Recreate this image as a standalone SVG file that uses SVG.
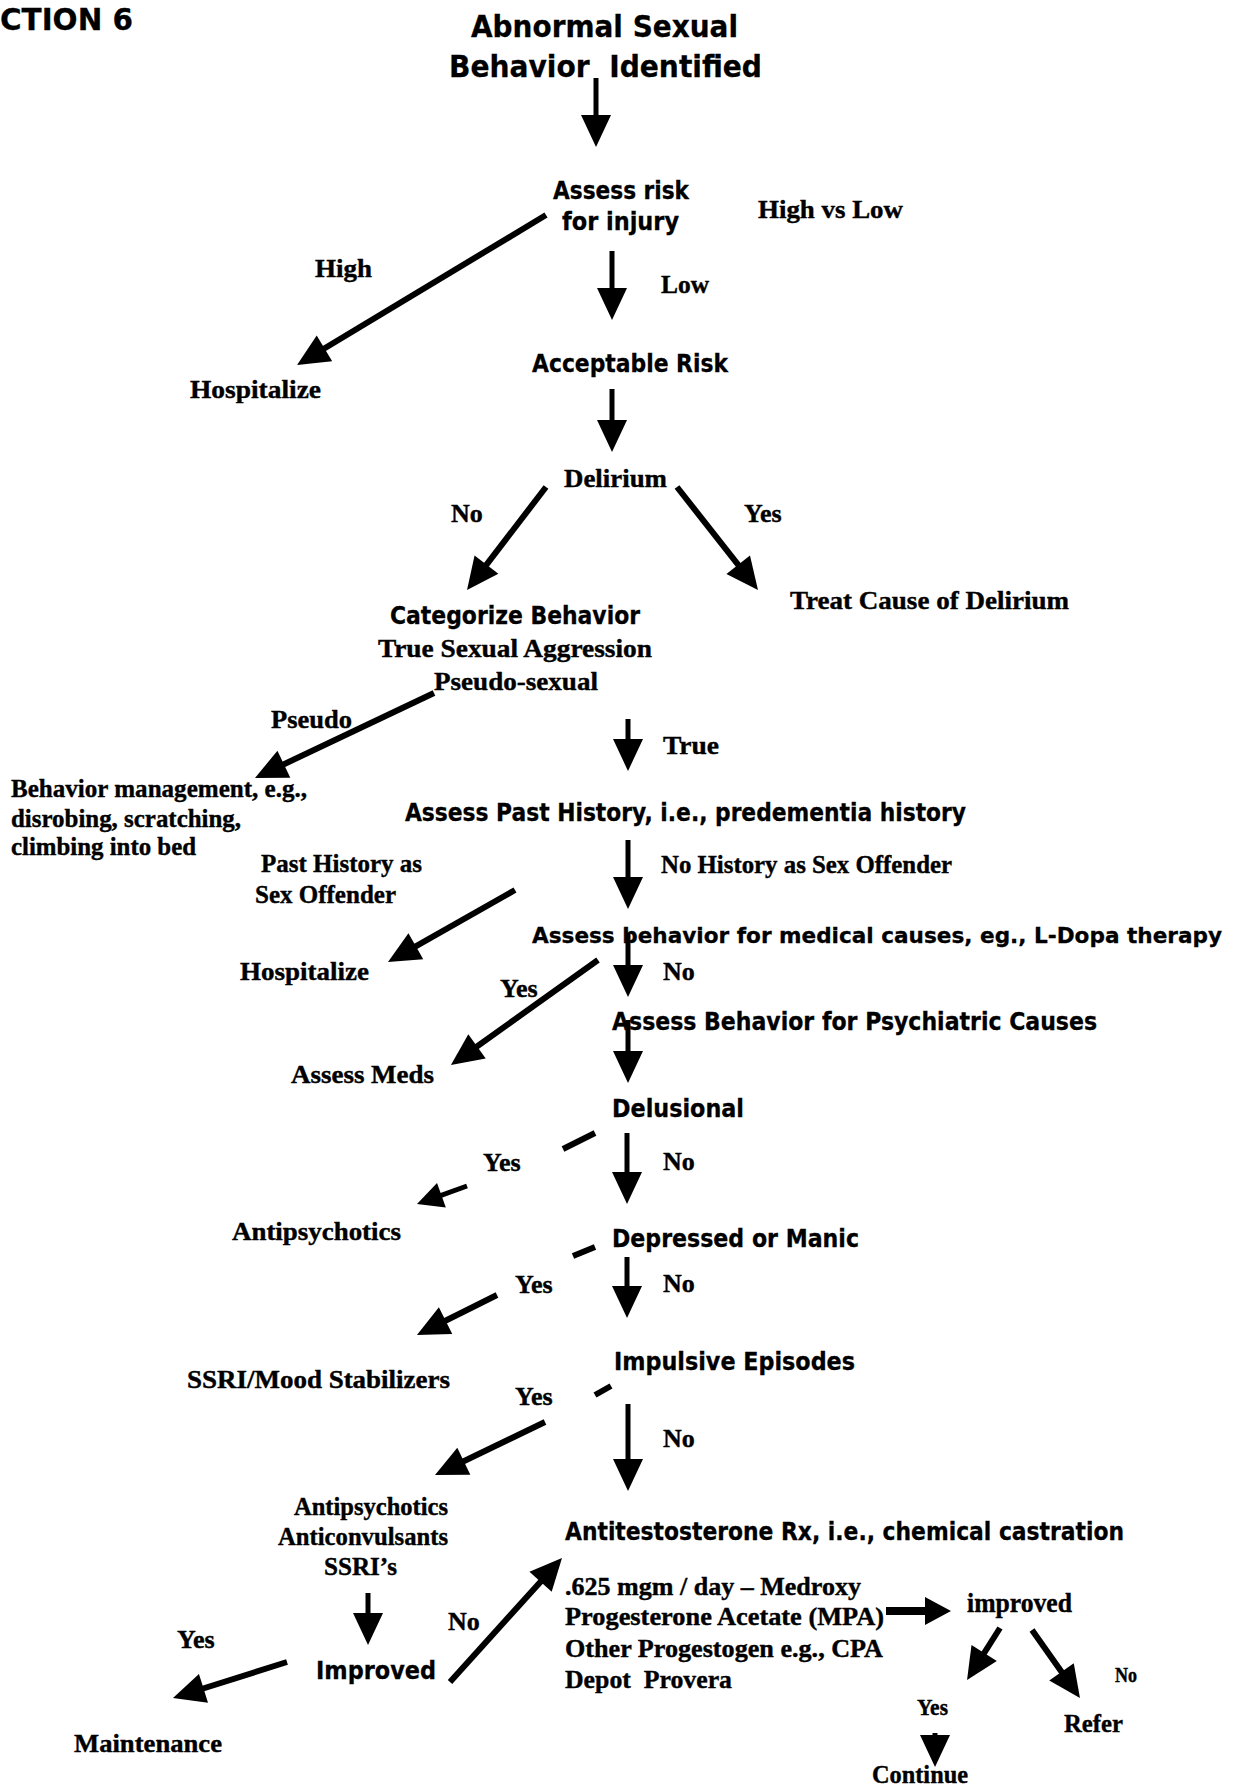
<svg xmlns="http://www.w3.org/2000/svg" width="1236" height="1788" viewBox="0 0 1236 1788">
<style>
.s{font-family:"DejaVu Sans","Liberation Sans",Arial,sans-serif;font-weight:bold;font-size:24px;fill:#000;stroke:#000;stroke-width:0.3px}
.t{font-family:"Liberation Serif","Times New Roman",serif;font-weight:bold;font-size:26px;fill:#000;stroke:#000;stroke-width:0.4px}
.v{stroke:#000;stroke-width:5;fill:none;marker-end:url(#ah)}
.d{stroke:#000;stroke-width:6;fill:none;marker-end:url(#ah)}
.ds{stroke:#000;stroke-width:5;fill:none;marker-end:url(#ahs)}
.k{stroke:#000;stroke-width:6;fill:none}
</style>
<defs>
<marker id="ah" markerUnits="userSpaceOnUse" markerWidth="32" markerHeight="30" refX="22" refY="15" orient="auto" overflow="visible">
<path d="M0,0 L32,15 L0,30 z" fill="#000"/>
</marker>
<marker id="ahs" markerUnits="userSpaceOnUse" markerWidth="26" markerHeight="26" refX="18" refY="13" orient="auto" overflow="visible">
<path d="M0,0 L26,13 L0,26 z" fill="#000"/>
</marker>
</defs>
<rect width="1236" height="1788" fill="#fff"/>

<g id="connectors">
<line class="v" x1="596" y1="78" x2="596" y2="137"/>
<line class="d" x1="546" y1="215" x2="305.6" y2="359.8"/>
<line class="v" x1="612" y1="251" x2="612" y2="310"/>
<line class="v" x1="612" y1="389" x2="612" y2="442"/>
<line class="d" x1="546" y1="487" x2="473.1" y2="582.1"/>
<line class="d" x1="677" y1="487" x2="751.8" y2="582.1"/>
<line class="d" x1="434" y1="693" x2="264" y2="773.7"/>
<line class="v" x1="628" y1="719" x2="628" y2="761"/>
<line class="v" x1="628" y1="840" x2="628" y2="899"/>
<line class="d" x1="515" y1="890" x2="396.7" y2="957.1"/>
<line class="v" x1="628" y1="933" x2="628" y2="987"/>
<line class="d" x1="598" y1="960" x2="459.1" y2="1059.2"/>
<line class="v" x1="628" y1="1020" x2="628" y2="1073"/>
<line class="k" x1="595" y1="1133" x2="563" y2="1149"/>
<line class="ds" x1="467" y1="1186" x2="424.5" y2="1201.3"/>
<line class="v" x1="627" y1="1133" x2="627" y2="1194"/>
<line class="k" x1="595" y1="1247" x2="573" y2="1256"/>
<line class="d" x1="497" y1="1295" x2="425.9" y2="1330.5"/>
<line class="v" x1="627" y1="1257" x2="627" y2="1308"/>
<line class="k" x1="611" y1="1386" x2="595" y2="1395"/>
<line class="d" x1="545" y1="1422" x2="444" y2="1470.7"/>
<line class="v" x1="628" y1="1404" x2="628" y2="1481"/>
<line class="v" x1="368" y1="1593" x2="368" y2="1635"/>
<line class="d" x1="450" y1="1682" x2="555.3" y2="1565.4"/>
<line class="d" x1="287" y1="1662" x2="182.5" y2="1695"/>
<path d="M886,1607 L925,1607 L925,1597 L951,1611 L925,1625 L925,1615 L886,1615 z" fill="#000"/>
<line class="d" x1="1000" y1="1628" x2="972.4" y2="1671.6"/>
<line class="d" x1="1032" y1="1630" x2="1074.2" y2="1689.8"/>
<line class="v" x1="935" y1="1733" x2="935" y2="1757"/>
</g>

<g id="edge-labels">
<text class="t" x="758" y="218" textLength="145" lengthAdjust="spacingAndGlyphs">High vs Low</text>
<text class="t" x="315" y="277" textLength="57" lengthAdjust="spacingAndGlyphs">High</text>
<text class="t" x="661" y="293" textLength="48" lengthAdjust="spacingAndGlyphs">Low</text>
<text class="t" x="451" y="522">No</text>
<text class="t" x="744" y="522">Yes</text>
<text class="t" x="271" y="728" textLength="81" lengthAdjust="spacingAndGlyphs">Pseudo</text>
<text class="t" x="663" y="754" textLength="56" lengthAdjust="spacingAndGlyphs">True</text>
<text class="t" x="261" y="872" textLength="161" lengthAdjust="spacingAndGlyphs">Past History as</text>
<text class="t" x="255" y="903" textLength="141" lengthAdjust="spacingAndGlyphs">Sex Offender</text>
<text class="t" x="661" y="873" textLength="291" lengthAdjust="spacingAndGlyphs">No History as Sex Offender</text>
<text class="t" x="663" y="980">No</text>
<text class="t" x="500" y="997">Yes</text>
<text class="t" x="483" y="1171">Yes</text>
<text class="t" x="663" y="1170">No</text>
<text class="t" x="515" y="1293">Yes</text>
<text class="t" x="663" y="1292">No</text>
<text class="t" x="515" y="1405">Yes</text>
<text class="t" x="663" y="1447">No</text>
<text class="t" x="448" y="1630">No</text>
<text class="t" x="177" y="1648">Yes</text>
<text class="t" x="1115" y="1682" style="font-size:20px" textLength="22" lengthAdjust="spacingAndGlyphs">No</text>
<text class="t" x="917" y="1715" style="font-size:23px" textLength="31" lengthAdjust="spacingAndGlyphs">Yes</text>
</g>

<g id="n-section"><text class="s" x="0" y="30" style="font-size:31px" textLength="133" lengthAdjust="spacingAndGlyphs">CTION 6</text></g>
<g id="n-title">
<text class="s" x="471" y="37" style="font-size:30px" textLength="267" lengthAdjust="spacingAndGlyphs">Abnormal Sexual</text>
<text class="s" x="449" y="77" style="font-size:30px" textLength="313" lengthAdjust="spacingAndGlyphs" xml:space="preserve">Behavior  Identified</text>
</g>
<g id="n-assess-risk">
<text class="s" x="553" y="199" textLength="136" lengthAdjust="spacingAndGlyphs">Assess risk</text>
<text class="s" x="562" y="230" textLength="117" lengthAdjust="spacingAndGlyphs">for injury</text>
</g>
<g id="n-hospitalize-1"><text class="t" x="190" y="398" textLength="131" lengthAdjust="spacingAndGlyphs">Hospitalize</text></g>
<g id="n-acceptable"><text class="s" x="532" y="372" textLength="196" lengthAdjust="spacingAndGlyphs">Acceptable Risk</text></g>
<g id="n-delirium"><text class="t" x="564" y="487" textLength="103" lengthAdjust="spacingAndGlyphs">Delirium</text></g>
<g id="n-treat"><text class="t" x="790" y="609" textLength="279" lengthAdjust="spacingAndGlyphs">Treat Cause of Delirium</text></g>
<g id="n-categorize">
<text class="s" x="390" y="624" textLength="250" lengthAdjust="spacingAndGlyphs">Categorize Behavior</text>
<text class="t" x="378" y="657" textLength="274" lengthAdjust="spacingAndGlyphs">True Sexual Aggression</text>
<text class="t" x="434" y="690" textLength="164" lengthAdjust="spacingAndGlyphs">Pseudo-sexual</text>
</g>
<g id="n-behavior-management">
<text class="t" x="11" y="797" textLength="296" lengthAdjust="spacingAndGlyphs">Behavior management, e.g.,</text>
<text class="t" x="11" y="827" textLength="230" lengthAdjust="spacingAndGlyphs">disrobing, scratching,</text>
<text class="t" x="11" y="855" textLength="185" lengthAdjust="spacingAndGlyphs">climbing into bed</text>
</g>
<g id="n-past-history"><text class="s" x="405" y="821" textLength="561" lengthAdjust="spacingAndGlyphs">Assess Past History, i.e., predementia history</text></g>
<g id="n-hospitalize-2"><text class="t" x="240" y="980" textLength="129" lengthAdjust="spacingAndGlyphs">Hospitalize</text></g>
<g id="n-medical"><text class="s" x="532" y="943" style="font-size:21.5px" textLength="690" lengthAdjust="spacingAndGlyphs">Assess behavior for medical causes, eg., L-Dopa therapy</text></g>
<g id="n-meds"><text class="t" x="291" y="1083" textLength="143" lengthAdjust="spacingAndGlyphs">Assess Meds</text></g>
<g id="n-psychiatric"><text class="s" x="612" y="1030" textLength="485" lengthAdjust="spacingAndGlyphs">Assess Behavior for Psychiatric Causes</text></g>
<g id="n-delusional"><text class="s" x="612" y="1117" textLength="132" lengthAdjust="spacingAndGlyphs">Delusional</text></g>
<g id="n-antipsychotics"><text class="t" x="232" y="1240" textLength="169" lengthAdjust="spacingAndGlyphs">Antipsychotics</text></g>
<g id="n-depressed"><text class="s" x="612" y="1247" textLength="247" lengthAdjust="spacingAndGlyphs">Depressed or Manic</text></g>
<g id="n-ssri-mood"><text class="t" x="187" y="1388" textLength="263" lengthAdjust="spacingAndGlyphs">SSRI/Mood Stabilizers</text></g>
<g id="n-impulsive"><text class="s" x="614" y="1370" textLength="241" lengthAdjust="spacingAndGlyphs">Impulsive Episodes</text></g>
<g id="n-combination">
<text class="t" x="294" y="1515" textLength="154" lengthAdjust="spacingAndGlyphs">Antipsychotics</text>
<text class="t" x="278" y="1545" textLength="170" lengthAdjust="spacingAndGlyphs">Anticonvulsants</text>
<text class="t" x="324" y="1575" textLength="73" lengthAdjust="spacingAndGlyphs">SSRI’s</text>
</g>
<g id="n-improved"><text class="s" x="316" y="1679" textLength="120" lengthAdjust="spacingAndGlyphs">Improved</text></g>
<g id="n-maintenance"><text class="t" x="74" y="1752" textLength="148" lengthAdjust="spacingAndGlyphs">Maintenance</text></g>
<g id="n-antitestosterone">
<text class="s" x="565" y="1540" textLength="559" lengthAdjust="spacingAndGlyphs">Antitestosterone Rx, i.e., chemical castration</text>
<text class="t" x="565" y="1595" textLength="296" lengthAdjust="spacingAndGlyphs">.625 mgm / day – Medroxy</text>
<text class="t" x="565" y="1625" textLength="319" lengthAdjust="spacingAndGlyphs">Progesterone Acetate (MPA)</text>
<text class="t" x="565" y="1657" textLength="318" lengthAdjust="spacingAndGlyphs">Other Progestogen e.g., CPA</text>
<text class="t" x="565" y="1688" textLength="167" lengthAdjust="spacingAndGlyphs" xml:space="preserve">Depot  Provera</text>
</g>
<g id="n-improved-2"><text class="t" x="967" y="1612" style="font-size:27px" textLength="105" lengthAdjust="spacingAndGlyphs">improved</text></g>
<g id="n-refer"><text class="t" x="1064" y="1732" textLength="59" lengthAdjust="spacingAndGlyphs">Refer</text></g>
<g id="n-continue"><text class="t" x="872" y="1783" textLength="96" lengthAdjust="spacingAndGlyphs">Continue</text></g>
</svg>
